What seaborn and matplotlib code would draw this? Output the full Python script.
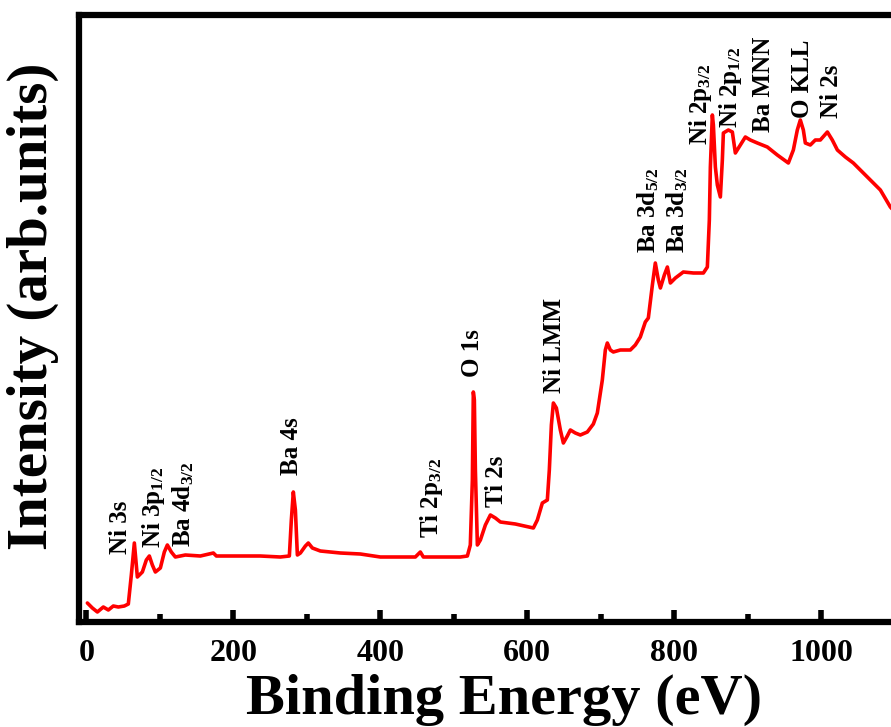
import matplotlib
matplotlib.use("Agg")
import matplotlib.pyplot as plt
import numpy as np
import pandas as pd
import seaborn as sns

# XPS survey spectrum
energy = [1.4, 8.2, 15.0, 23.1, 29.9, 36.7, 43.5, 51.7, 57.1, 61.2, 65.3, 69.4, 76.2, 81.6,
          85.7, 89.8, 93.9, 100.7, 106.1, 110.2, 115.6, 121.1, 134.7, 155.1, 172.8, 176.9,
          209.5, 236.7, 263.9, 276.2, 278.9, 281.6, 284.4, 287.1, 291.2, 298.0, 302.0, 307.5,
          318.4, 345.6, 372.8, 400.0, 427.2, 447.6, 454.4, 458.5, 481.6, 508.8, 518.4, 522.4,
          525.2, 526.5, 527.9, 529.3, 532.0, 536.1, 542.9, 549.7, 556.5, 563.3, 583.7, 608.2,
          613.6, 620.4, 627.2, 629.9, 632.7, 635.4, 639.5, 644.9, 649.0, 654.4, 658.5, 665.3,
          672.1, 681.6, 689.8, 695.2, 702.0, 706.1, 708.8, 712.9, 717.0, 726.5, 740.1, 746.9,
          753.7, 760.5, 764.6, 770.1, 774.1, 778.2, 781.0, 786.4, 790.5, 794.6, 801.4, 812.2,
          825.9, 839.5, 844.9, 847.6, 849.0, 851.7, 853.1, 855.8, 858.5, 862.6, 865.3, 866.7,
          873.5, 878.9, 883.0, 889.8, 896.6, 903.4, 912.9, 926.5, 940.1, 955.1, 961.9, 967.3,
          971.4, 975.5, 978.2, 985.0, 991.8, 998.6, 1008.2, 1014.9, 1021.8, 1032.7, 1043.5,
          1062.6, 1080.3, 1093.9, 1107.5, 1121.1]
intensity = [19, 14, 10, 15, 12, 16, 15, 16, 18, 47, 79, 45, 50, 62,
             66, 57, 50, 54, 70, 77, 70, 65, 67, 66, 69, 66,
             66, 66, 65, 66, 102, 130, 112, 67, 69, 76, 79, 74,
             71, 69, 68, 65, 65, 65, 70, 65, 65, 65, 66, 77,
             142, 230, 222, 152, 77, 82, 97, 107, 104, 100, 98, 94,
             102, 119, 122, 152, 197, 219, 214, 192, 179, 186, 192, 189,
             187, 190, 198, 209, 242, 272, 279, 272, 270, 272, 272, 277,
             285, 300, 304, 337, 359, 342, 334, 347, 355, 339, 344, 350,
             349, 349, 355, 402, 455, 507, 497, 455, 437, 425, 462, 489,
             492, 490, 469, 477, 485, 482, 479, 475, 467, 459, 472, 492,
             502, 492, 479, 477, 482, 482, 490, 482, 472, 465, 459,
             445, 432, 415, 404, 394]

peak_names = ["Ni 3s", r"Ni 3p$_{1/2}$", r"Ba 4d$_{3/2}$", "Ba 4s", r"Ti 2p$_{3/2}$",
              "O 1s", "Ti 2s", "Ni LMM", r"Ba 3d$_{5/2}$", r"Ba 3d$_{3/2}$",
              r"Ni 2p$_{3/2}$", r"Ni 2p$_{1/2}$", "Ba MNN", "O KLL", "Ni 2s"]
peak_x = [46, 91, 132, 279, 469, 525, 558, 637, 765, 804, 835, 876, 921, 974, 1014]
peak_y = [68, 74, 75, 147, 84, 245, 115, 229, 369, 369, 477, 494, 490, 504, 504]

sns.set_theme(style="ticks")
plt.rcParams['font.family'] = ['Liberation Serif', 'DejaVu Serif']
plt.rcParams['font.weight'] = 'bold'
plt.rcParams['mathtext.default'] = 'regular'
plt.rcParams['text.color'] = 'black'
plt.rcParams['axes.labelcolor'] = 'black'
plt.rcParams['xtick.color'] = 'black'

df = pd.DataFrame({"Binding Energy": energy, "Intensity": intensity})

fig = plt.figure(figsize=(8.91, 7.27), dpi=100)
ax = fig.add_axes([79 / 891, 105 / 727, 882 / 891, 607 / 727])
sns.lineplot(data=df, x="Binding Energy", y="Intensity", color="red", linewidth=2.6,
             estimator=None, sort=False, ax=ax)

for name, px, py in zip(peak_names, peak_x, peak_y):
    ax.text(px, py, name, rotation=90, ha="center", va="bottom",
            fontsize=18, fontweight="bold", color="black")

ax.set_xlim(-10, 1190)
ax.set_ylim(0, 607)
ax.set_xticks([0, 200, 400, 600, 800, 1000])
ax.set_xticks([100, 300, 500, 700, 900, 1100], minor=True)
ax.set_yticks([])
ax.tick_params(axis="x", which="major", direction="in", length=9, width=4,
               labelsize=23, pad=12, labelcolor="black")
ax.tick_params(axis="x", which="minor", direction="in", length=6, width=4)
for lab in ax.get_xticklabels():
    lab.set_fontweight("bold")
for side in ["left", "bottom", "top", "right"]:
    ax.spines[side].set_linewidth(4.5)
    ax.spines[side].set_color("black")

ax.set_xlabel("Binding Energy (eV)", fontsize=42, fontweight="bold", color="black")
ax.set_ylabel("Intensity (arb.units)", fontsize=41, fontweight="bold", color="black")
ax.xaxis.set_label_coords(0.482, -0.086)
ax.yaxis.set_label_coords(-0.023, 0.52)

fig.savefig("out.png", dpi=100)
